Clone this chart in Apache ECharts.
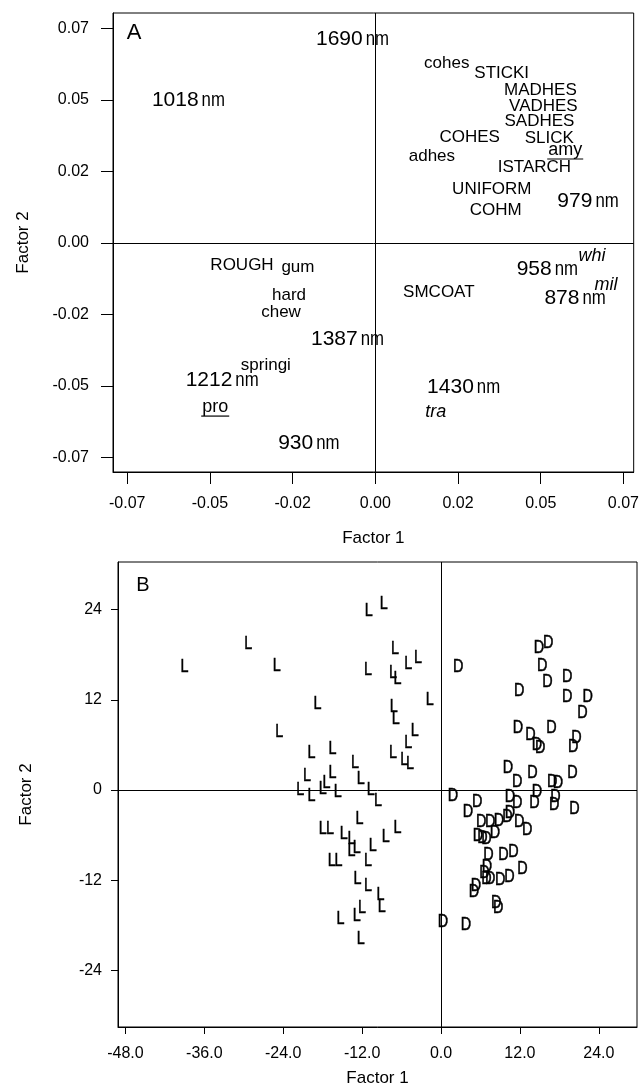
<!DOCTYPE html>
<html>
<head>
<meta charset="utf-8">
<script src="https://cdn.jsdelivr.net/npm/echarts@6/dist/echarts.min.js"></script>
<style>
html,body{margin:0;padding:0;background:#fff;}
#chart{width:642px;height:1091px;}
</style>
</head>
<body>
<div id="chart"></div>
<script>
// ---------- Panel A data (loadings) ----------
const waveLabels = ['1690','1018','979','1387','1212','930','958','878','1430'];
const waveX = [-0.0069,-0.0565,0.0643,-0.0084,-0.0463,-0.0201,0.0520,0.0604,0.0267];
const waveY = [0.0713,0.0500,0.0147,-0.0336,-0.0479,-0.0699,-0.0091,-0.0192,-0.0504];

const upperLabels = ['STICKI','MADHES','VADHES','SADHES','COHES','SLICK','ISTARCH','UNIFORM','COHM','ROUGH','SMCOAT'];
const upperX = [0.0382,0.0499,0.0508,0.0496,0.0285,0.0526,0.0481,0.0352,0.0364,-0.0403,0.0192];
const upperY = [0.0594,0.0535,0.0479,0.0427,0.0371,0.0367,0.0266,0.0189,0.0115,-0.0077,-0.0171];

const lowerLabels = ['cohes','adhes','gum','hard','chew','springi'];
const lowerX = [0.0216,0.0171,-0.0234,-0.0261,-0.0285,-0.0331];
const lowerY = [0.0629,0.0304,-0.0084,-0.0182,-0.0241,-0.0427];

const italicLabels = ['whi','mil','tra'];
const italicX = [0.0655,0.0697,0.0183];
const italicY = [-0.0045,-0.0147,-0.0591];

const underLabels = ['amy','pro'];
const underX = [0.0574,-0.0484];
const underY = [0.0325,-0.0574];

// ---------- Panel B data (scores) ----------
const lX = [-39.0,-29.3,-25.0,-24.6,-11.0,-8.7,-7.0,-5.0,-3.5,-11.1,-7.3,-6.6,-1.7,-18.8,-7.2,-6.9,-4.0,-5.0,-19.7,-16.5,-13.1,-7.3,-5.6,-4.7,-20.4,-16.5,-12.2,-21.4,-19.7,-18.0,-17.4,-15.7,-10.7,-9.6,-12.4,-18.0,-16.9,-14.8,-13.6,-13.6,-12.8,-10.4,-8.4,-6.6,-16.6,-15.6,-11.1,-12.7,-11.1,-9.2,-9.0,-12.0,-12.8,-15.3,-12.2];
const lY = [16.4,19.4,16.5,7.7,23.8,24.7,18.8,16.8,17.5,15.9,15.6,14.8,11.9,11.4,11.0,9.5,7.9,6.2,4.9,5.4,3.6,4.9,4.0,3.4,1.9,2.2,1.5,0.0,-0.8,0.1,0.9,-0.3,0.0,-1.5,-3.8,-5.2,-5.2,-5.8,-6.5,-8.1,-7.7,-7.4,-6.2,-5.0,-9.5,-9.5,-9.4,-11.8,-12.7,-14.0,-15.6,-15.7,-16.8,-17.2,-19.8];
const dX = [2.6,14.9,16.3,15.4,16.2,19.2,11.9,19.2,22.3,21.5,11.7,13.6,16.8,14.6,15.1,20.6,20.1,10.2,13.9,20.0,11.6,16.9,17.8,14.6,1.8,10.5,17.4,5.5,11.6,14.2,17.2,20.3,4.1,10.5,10.1,6.1,7.5,8.8,11.9,13.1,8.2,5.6,6.3,6.9,7.2,9.5,11.0,12.4,7.0,6.6,7.5,9.0,10.4,5.3,5.0,6.9,8.4,8.7,0.3,3.8];
const dY = [16.4,18.9,19.6,16.5,14.3,15.0,13.1,12.4,12.4,10.3,8.2,7.3,8.2,6.0,5.6,6.9,5.7,2.9,2.2,2.2,1.1,1.1,0.9,-0.3,-0.8,-0.9,-0.9,-1.6,-1.7,-1.7,-2.0,-2.5,-2.9,-3.0,-3.6,-4.2,-4.2,-4.1,-4.2,-5.3,-5.7,-6.1,-6.4,-6.5,-8.6,-8.6,-8.2,-10.5,-10.2,-11.1,-11.9,-12.0,-11.6,-12.8,-13.6,-11.9,-15.0,-15.7,-17.6,-17.9];

// ---------- ticks ----------
const aTickValues = [-0.075,-0.05,-0.025,0,0.025,0.05,0.075];
const aTickLabels = ['-0.07','-0.05','-0.02','0.00','0.02','0.05','0.07'];
const bXTickValues = [-48,-36,-24,-12,0,12,24];
const bXTickLabels = ['-48.0','-36.0','-24.0','-12.0','0.0','12.0','24.0'];
const bYTickValues = [-24,-12,0,12,24];
const bYTickLabels = ['-24','-12','0','12','24'];

const FONT = "'Liberation Sans', Arial, Helvetica, sans-serif";
const ctx = document.createElement('canvas').getContext('2d');
function measure(text, font){ ctx.font = font; return ctx.measureText(text).width; }

function tickFmt(values, labels){
  return function(v){
    const i = values.findIndex(t => Math.abs(t - v) < 1e-9);
    return i >= 0 ? labels[i] : '';
  };
}

function textSeries(idx, labels, xs, ys, opt){
  return {
    type: 'custom',
    xAxisIndex: idx, yAxisIndex: idx,
    silent: true,
    data: xs.map((x,i)=>[x, ys[i]]),
    renderItem: function(params, api){
      const p = api.coord([api.value(0), api.value(1)]);
      const t = labels[params.dataIndex];
      const font = (opt.italic ? 'italic ' : '') + opt.size + 'px ' + FONT;
      const sx = opt.scaleX || 1;
      const st = { text: t, font: font, fill: '#000', align: 'center', verticalAlign: 'middle' };
      if (opt.stroke) { st.stroke = '#000'; st.lineWidth = opt.stroke; }
      const children = [{ type: 'text', x: p[0], y: p[1], scaleX: sx, style: st }];
      if (opt.underline){
        const w = measure(t, font) * sx;
        const yy = p[1] + opt.size * 0.5;
        children.push({ type: 'line', shape: { x1: p[0]-w/2-1, y1: yy, x2: p[0]+w/2+1, y2: yy },
          style: { stroke: '#000', lineWidth: 1.2 } });
      }
      return { type: 'group', children: children };
    }
  };
}

function waveSeries(idx){
  return {
    type: 'custom',
    xAxisIndex: idx, yAxisIndex: idx,
    silent: true,
    data: waveX.map((x,i)=>[x, waveY[i]]),
    renderItem: function(params, api){
      const p = api.coord([api.value(0), api.value(1)]);
      const num = waveLabels[params.dataIndex];
      const fN = '21px ' + FONT, fU = '21px ' + FONT;
      const su = 0.8, gap = 3;
      const wN = measure(num, fN), wU = measure('nm', fU) * su;
      const left = p[0] - (wN + gap + wU) / 2;
      return { type: 'group', children: [
        { type: 'text', x: left, y: p[1], style: { text: num, font: fN, fill: '#000', align: 'left', verticalAlign: 'middle' } },
        { type: 'text', x: left + wN + gap, y: p[1], scaleX: su, style: { text: 'nm', font: fU, fill: '#000', align: 'left', verticalAlign: 'middle' } }
      ]};
    }
  };
}

function zeroLines(idx){
  return {
    type: 'scatter', xAxisIndex: idx, yAxisIndex: idx, data: [], silent: true,
    markLine: {
      silent: true, symbol: ['none','none'], animation: false,
      label: { show: false },
      lineStyle: { color: '#000', width: 1, type: 'solid' },
      data: [{ xAxis: 0 }, { yAxis: 0 }]
    }
  };
}

const axisCommon = {
  type: 'value',
  splitLine: { show: false },
  axisLine: { show: true, onZero: false, lineStyle: { color: '#000', width: 1 } },
  axisLabel: { color: '#000', fontSize: 16, fontFamily: FONT },
  nameLocation: 'middle',
  nameTextStyle: { color: '#000', fontSize: 17, fontFamily: FONT }
};

const option = {
  animation: false,
  backgroundColor: '#fff',
  grid: [
    { left: 113, top: 13, width: 524, height: 459, show: true, borderColor: '#000', borderWidth: 1 },
    { left: 118, top: 562, width: 519, height: 465, show: true, borderColor: '#000', borderWidth: 1 }
  ],
  xAxis: [
    Object.assign({}, axisCommon, {
      gridIndex: 0, min: -0.0793, max: 0.0781, name: 'Factor 1', nameGap: 58,
      axisTick: { show: true, inside: false, length: 12, customValues: aTickValues, lineStyle: { color: '#000' } },
      axisLabel: Object.assign({}, axisCommon.axisLabel, { margin: 24, customValues: aTickValues, formatter: tickFmt(aTickValues, aTickLabels) })
    }),
    Object.assign({}, axisCommon, {
      gridIndex: 1, min: -49.13, max: 29.81, name: 'Factor 1', nameGap: 43,
      axisTick: { show: true, inside: false, length: 7, customValues: bXTickValues, lineStyle: { color: '#000' } },
      axisLabel: Object.assign({}, axisCommon.axisLabel, { margin: 19, customValues: bXTickValues, formatter: tickFmt(bXTickValues, bXTickLabels) })
    })
  ],
  yAxis: [
    Object.assign({}, axisCommon, {
      gridIndex: 0, min: -0.0801, max: 0.0804, name: 'Factor 2', nameGap: 81,
      axisTick: { show: true, inside: false, length: 12, customValues: aTickValues, lineStyle: { color: '#000' } },
      axisLabel: Object.assign({}, axisCommon.axisLabel, { margin: 24, customValues: aTickValues, formatter: tickFmt(aTickValues, aTickLabels) })
    }),
    Object.assign({}, axisCommon, {
      gridIndex: 1, min: -31.51, max: 30.32, name: 'Factor 2', nameGap: 83,
      axisTick: { show: true, inside: false, length: 7, customValues: bYTickValues, lineStyle: { color: '#000' } },
      axisLabel: Object.assign({}, axisCommon.axisLabel, { margin: 16, customValues: bYTickValues, formatter: tickFmt(bYTickValues, bYTickLabels) })
    })
  ],
  graphic: [
    { type: 'text', x: 134, y: 33, style: { text: 'A', font: '22px ' + FONT, fill: '#000', align: 'center', verticalAlign: 'middle' } },
    { type: 'text', x: 143, y: 585, style: { text: 'B', font: '20px ' + FONT, fill: '#000', align: 'center', verticalAlign: 'middle' } }
  ],
  series: [
    zeroLines(0),
    zeroLines(1),
    waveSeries(0),
    textSeries(0, upperLabels, upperX, upperY, { size: 17 }),
    textSeries(0, lowerLabels, lowerX, lowerY, { size: 17 }),
    textSeries(0, italicLabels, italicX, italicY, { size: 18, italic: true }),
    textSeries(0, underLabels, underX, underY, { size: 18, underline: true }),
    textSeries(1, lX.map(()=> 'L'), lX, lY, { size: 18, scaleX: 0.8, stroke: 0.5 }),
    textSeries(1, dX.map(()=> 'D'), dX, dY, { size: 18, scaleX: 0.8, stroke: 0.5 })
  ]
};

const chart = echarts.init(document.getElementById('chart'), null, { renderer: 'canvas' });
chart.setOption(option);
</script>
</body>
</html>
